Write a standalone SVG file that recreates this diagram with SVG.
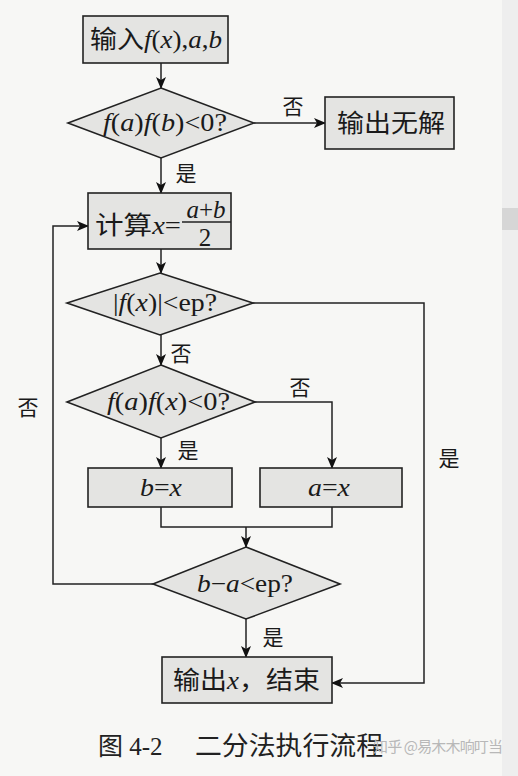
<svg xmlns="http://www.w3.org/2000/svg" width="518" height="776" viewBox="0 0 518 776">
<defs>
<marker id="ah" markerUnits="userSpaceOnUse" markerWidth="12" markerHeight="10" refX="11" refY="5" orient="auto">
<path d="M0,0 L12,5 L0,10 L3,5 Z" fill="#111"/>
</marker>
<style>
.bx{fill:#e4e4e2;stroke:#222;stroke-width:1.6}
.ln{fill:none;stroke:#222;stroke-width:1.5}
.t{font-family:"Liberation Serif","Noto Sans CJK SC",serif;font-size:25px;fill:#1a1a1a}
.i{font-style:italic}
.lb{font-family:"Liberation Serif","Noto Sans CJK SC",serif;font-size:21px;fill:#1a1a1a}
</style>
</defs>
<rect width="518" height="776" fill="#f7f7f5"/>
<rect x="502" y="0" width="16" height="776" fill="#eeeeee"/>
<rect x="502" y="208" width="16" height="22" fill="#d6d6d6"/>

<g id="connectors">
<line class="ln" x1="161" y1="63" x2="161" y2="88" marker-end="url(#ah)"/>
<line class="ln" x1="254" y1="123" x2="325" y2="123" marker-end="url(#ah)"/>
<line class="ln" x1="161" y1="158" x2="161" y2="193" marker-end="url(#ah)"/>
<line class="ln" x1="161" y1="249" x2="161" y2="273" marker-end="url(#ah)"/>
<line class="ln" x1="161" y1="335" x2="161" y2="365" marker-end="url(#ah)"/>
<line class="ln" x1="161" y1="438" x2="161" y2="468" marker-end="url(#ah)"/>
<polyline class="ln" points="255,402 332,402 332,468" marker-end="url(#ah)"/>
<polyline class="ln" points="161,507 161,527 332,527 332,507"/>
<line class="ln" x1="246" y1="527" x2="246" y2="547" marker-end="url(#ah)"/>
<line class="ln" x1="246" y1="619" x2="246" y2="657" marker-end="url(#ah)"/>
<polyline class="ln" points="153,584 53,584 53,226 88,226" marker-end="url(#ah)"/>
<polyline class="ln" points="253,303 424,303 424,683 332,683" marker-end="url(#ah)"/>
<text class="lb" x="293" y="114" text-anchor="middle">否</text>
<text class="lb" x="186" y="181" text-anchor="middle">是</text>
<text class="lb" x="181" y="361" text-anchor="middle">否</text>
<text class="lb" x="300" y="395" text-anchor="middle">否</text>
<text class="lb" x="188" y="458" text-anchor="middle">是</text>
<text class="lb" x="449" y="466" text-anchor="middle">是</text>
<text class="lb" x="28" y="415" text-anchor="middle">否</text>
<text class="lb" x="273" y="645" text-anchor="middle">是</text>
</g>

<g id="input">
<rect class="bx" x="83" y="16" width="145" height="47"/>
<text class="t" x="90" y="48" textLength="132" lengthAdjust="spacingAndGlyphs">输入<tspan class="i">f</tspan>(<tspan class="i">x</tspan>),<tspan class="i">a</tspan>,<tspan class="i">b</tspan></text>
</g>

<g id="check1">
<polygon class="bx" points="161,88 254,123 161,158 68,123"/>
<text class="t" x="103" y="131" textLength="124" lengthAdjust="spacingAndGlyphs"><tspan class="i">f</tspan>(<tspan class="i">a</tspan>)<tspan class="i">f</tspan>(<tspan class="i">b</tspan>)&lt;0?</text>
</g>

<g id="nosol">
<rect class="bx" x="325" y="97" width="129" height="52"/>
<text class="t" x="337" y="132" textLength="108" lengthAdjust="spacingAndGlyphs">输出无解</text>
</g>

<g id="calc">
<rect class="bx" x="88" y="193" width="143" height="56"/>
<line x1="182" y1="222" x2="231" y2="222" stroke="#222" stroke-width="1.4"/>
<text class="t" x="95" y="234" textLength="86" lengthAdjust="spacingAndGlyphs">计算<tspan class="i">x</tspan>=</text>
<text class="t" x="206" y="218" text-anchor="middle"><tspan class="i">a</tspan>+<tspan class="i">b</tspan></text>
<text class="t" x="205" y="246" text-anchor="middle">2</text>
</g>

<g id="check2">
<polygon class="bx" points="160,273 253,303 160,335 67,303"/>
<text class="t" x="113" y="311" textLength="104" lengthAdjust="spacingAndGlyphs">|<tspan class="i">f</tspan>(<tspan class="i">x</tspan>)|&lt;ep?</text>
</g>

<g id="check3">
<polygon class="bx" points="161,365 255,402 161,438 67,402"/>
<text class="t" x="107" y="410" textLength="123" lengthAdjust="spacingAndGlyphs"><tspan class="i">f</tspan>(<tspan class="i">a</tspan>)<tspan class="i">f</tspan>(<tspan class="i">x</tspan>)&lt;0?</text>
</g>

<g id="setb">
<rect class="bx" x="88" y="468" width="144" height="39"/>
<text class="t" x="140" y="496" textLength="42" lengthAdjust="spacingAndGlyphs"><tspan class="i">b</tspan>=<tspan class="i">x</tspan></text>
</g>

<g id="seta">
<rect class="bx" x="260" y="468" width="142" height="39"/>
<text class="t" x="308" y="496" textLength="42" lengthAdjust="spacingAndGlyphs"><tspan class="i">a</tspan>=<tspan class="i">x</tspan></text>
</g>

<g id="check4">
<polygon class="bx" points="246,547 340,584 246,619 153,584"/>
<text class="t" x="197" y="592" textLength="96" lengthAdjust="spacingAndGlyphs"><tspan class="i">b</tspan>−<tspan class="i">a</tspan>&lt;ep?</text>
</g>

<g id="output">
<rect class="bx" x="162" y="657" width="170" height="46"/>
<text class="t" x="173" y="689" textLength="147" lengthAdjust="spacingAndGlyphs">输出<tspan class="i">x</tspan>，结束</text>
</g>

<text x="98" y="755" font-family="Liberation Serif,'Noto Sans CJK SC',serif" font-size="25" fill="#222">图 4-2</text>
<text x="195" y="755" font-family="'Noto Sans CJK SC',serif" font-size="26" fill="#222" textLength="188" lengthAdjust="spacingAndGlyphs">二分法执行流程</text>
<text x="373" y="752" font-family="'Noto Sans CJK SC',sans-serif" font-size="15" fill="#b8b8b8" textLength="130">知乎 @易木木响叮当</text>
</svg>
